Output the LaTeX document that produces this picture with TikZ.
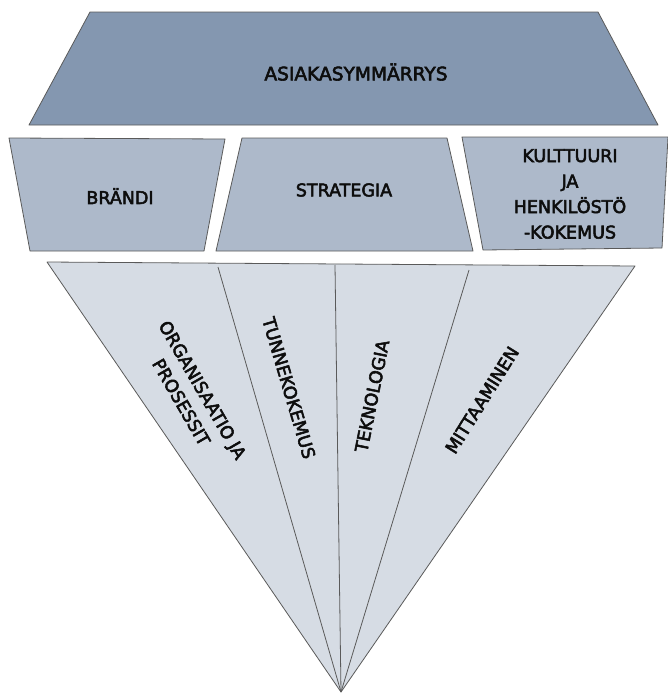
\documentclass[tikz,border=0pt]{standalone}
\usepackage{fontspec}
\setmainfont{DejaVu Sans}
\newfontfamily\lblfont{DejaVu Sans}[FakeBold=3]
\definecolor{topfill}{HTML}{8497B0}
\definecolor{midfill}{HTML}{ADB9CA}
\definecolor{trifill}{HTML}{D6DCE4}
\definecolor{edge}{HTML}{5A5A5A}
\begin{document}
\begin{tikzpicture}[x=1pt,y=-1pt,
  shapeline/.style={draw=edge,line width=0.8pt,line join=round},
  lbl/.style={font=\lblfont\fontsize{17.5}{25.5}\selectfont,text=black!95,align=center,inner sep=0pt}]
\useasboundingbox (0,0) rectangle (667,696);
% top trapezoid
\draw[shapeline,fill=topfill] (90,12) -- (598,12) -- (658,125) -- (29,125) -- cycle;
\node[lbl,font=\lblfont\fontsize{18.6}{22}\selectfont] (asia) at (356,72) {ASIAKASYMMÄRRYS};
% middle row
\draw[shapeline,fill=midfill] (9,138) -- (225,139) -- (204,251) -- (30,251) -- cycle;
\node[lbl] (brandi) at (120,196) {BRÄNDI};
\draw[shapeline,fill=midfill] (242,138) -- (447,138) -- (473,251) -- (216,251) -- cycle;
\node[lbl] (strat) at (344,190) {STRATEGIA};
\draw[shapeline,fill=midfill] (462,137) -- (668,137) -- (662,248) -- (483,250) -- cycle;
\node[lbl] (kult) at (570,194) {KULTTUURI\\JA\\HENKILÖSTÖ\\-KOKEMUS};
% triangle
\coordinate (apex) at (341,692);
\coordinate (tl) at (47,262);
\coordinate (tr) at (635,266);
\coordinate (d1) at (218,267);
\coordinate (d2) at (335,265);
\coordinate (d3) at (469,270);
\draw[shapeline,fill=trifill] (tl) -- (tr) -- (apex) -- cycle;
\draw[shapeline] (d1) -- (apex);
\draw[shapeline] (d2) -- (apex);
\draw[shapeline] (d3) -- (apex);
\node[lbl,rotate=-60,font=\lblfont\fontsize{17.5}{24.6}\selectfont] (org) at (192,396) {ORGANISAATIO JA\\PROSESSIT};
\node[lbl,rotate=-73.5] (tunne) at (289,388) {TUNNEKOKEMUS};
\node[lbl,rotate=78.7] (tekno) at (372,396) {TEKNOLOGIA};
\node[lbl,rotate=58] (mitta) at (482,400) {MITTAAMINEN};
\end{tikzpicture}
\end{document}
